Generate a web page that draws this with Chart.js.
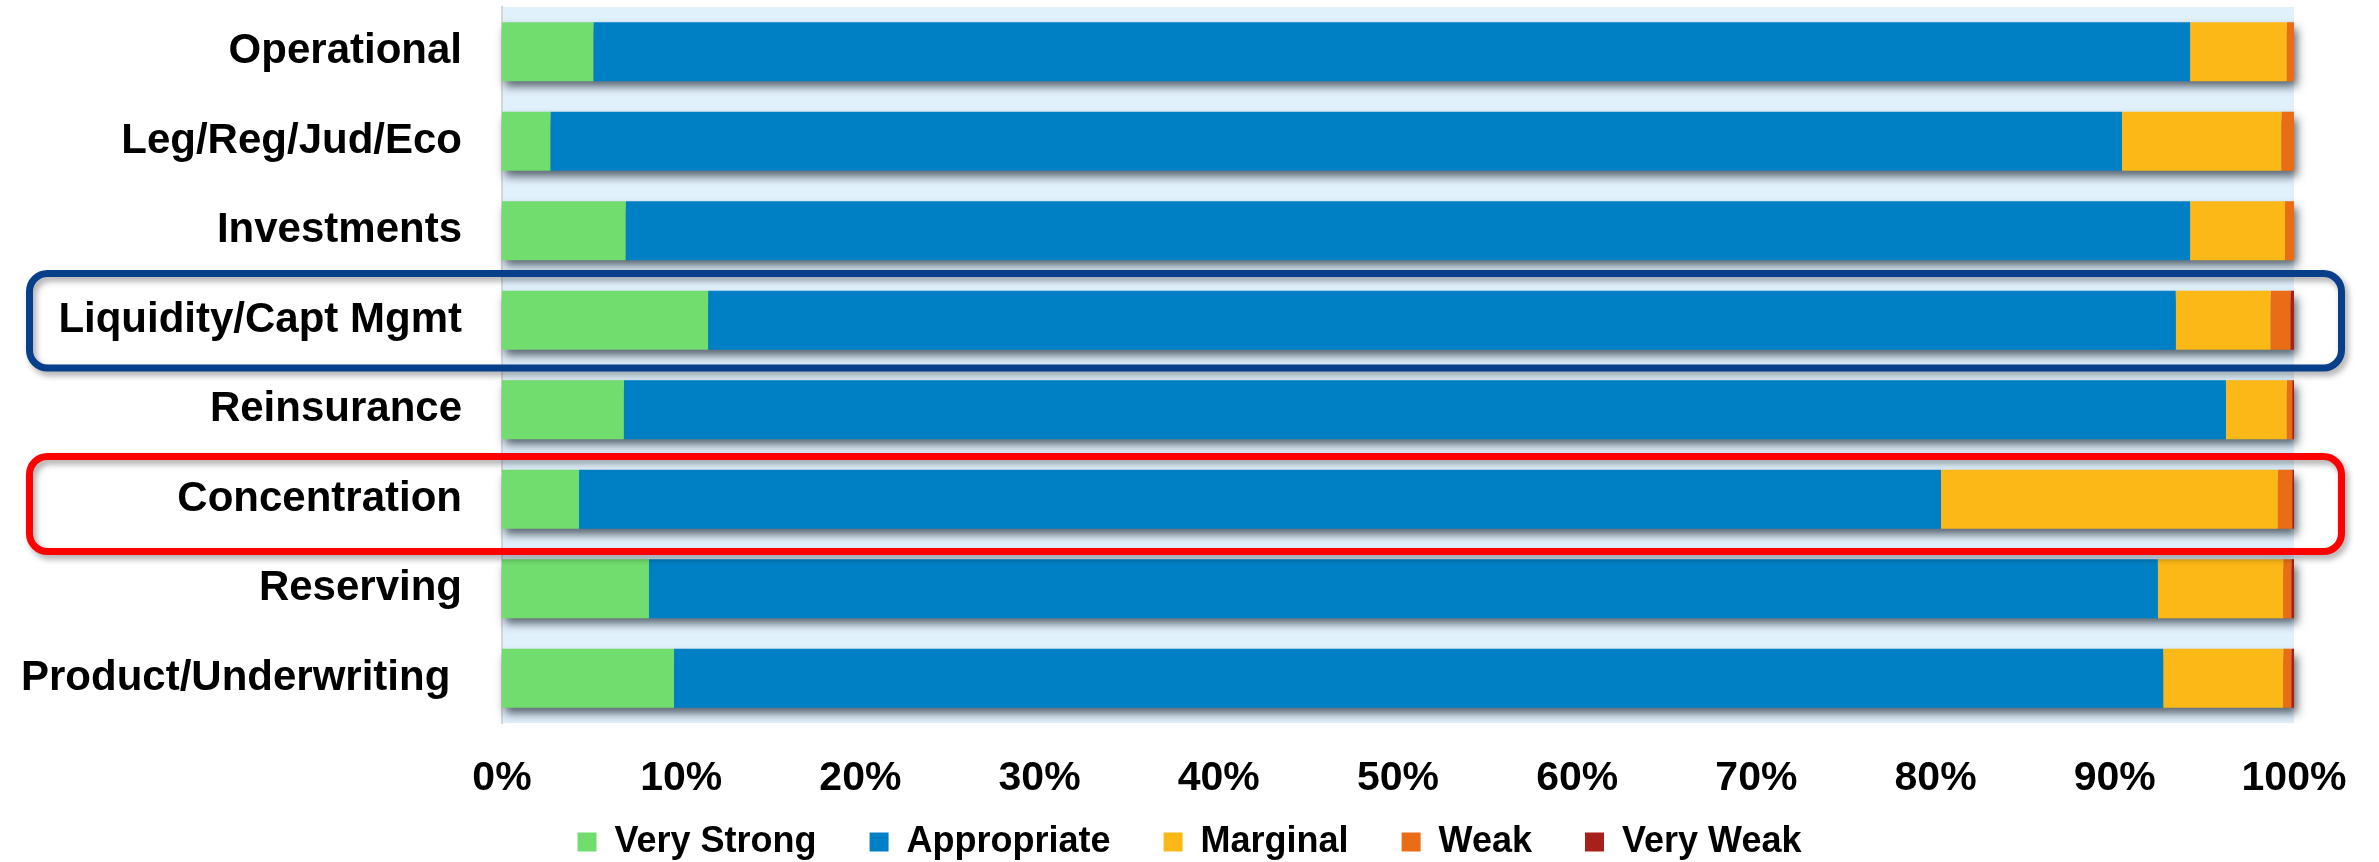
<!DOCTYPE html>
<html>
<head>
<meta charset="utf-8">
<script src="https://cdn.jsdelivr.net/npm/chart.js@4.4.1/dist/chart.umd.min.js"></script>
<style>
  html, body { margin: 0; padding: 0; background: #ffffff; }
  #wrap { width: 2379px; height: 862px; position: relative; }
</style>
</head>
<body>
<div id="wrap"><canvas id="chart"></canvas></div>
<script>
// Risk categories (top to bottom) and the share of each rating, in percent
const categories = [
  'Operational',
  'Leg/Reg/Jud/Eco',
  'Investments',
  'Liquidity/Capt Mgmt',
  'Reinsurance',
  'Concentration',
  'Reserving',
  'Product/Underwriting '
];
const veryStrong  = [5.1, 2.7, 6.9, 11.5, 6.8, 4.3, 8.2, 9.6];
const appropriate = [89.1, 87.7, 87.3, 81.9, 89.4, 76.0, 84.2, 83.1];
const marginal    = [5.4, 8.9, 5.3, 5.3, 3.4, 18.8, 7.0, 6.7];
const weak        = [0.4, 0.7, 0.5, 1.1, 0.3, 0.8, 0.45, 0.45];
const veryWeak    = [0, 0, 0, 0.2, 0.1, 0.1, 0.15, 0.15];

const seriesNames  = ['Very Strong', 'Appropriate', 'Marginal', 'Weak', 'Very Weak'];
const seriesValues = [veryStrong, appropriate, marginal, weak, veryWeak];
const seriesColors = ['#70DD6E', '#0080C4', '#FBB817', '#EA6C16', '#A8201A'];

// Percent axis
const axisMin = 0;
const axisMax = 100;
const axisStep = 10;
const tickSuffix = '%';

// Rows called out with a rounded frame
const framedRows = ['Liquidity/Capt Mgmt', 'Concentration'];
const frameColors = ['#073F8B', '#FF0000'];

Chart.defaults.font.family = "'Liberation Sans', Arial, Helvetica, sans-serif";
Chart.defaults.color = '#000000';

// Light fill behind the plotting area
const plotBackground = {
  id: 'plotBackground',
  beforeDraw(chart, args, opts) {
    const { ctx, chartArea: a } = chart;
    ctx.save();
    ctx.fillStyle = opts.color;
    ctx.fillRect(a.left, a.top, a.right - a.left, a.bottom - a.top);
    ctx.restore();
  }
};

// Places the legend row at a fixed distance below the plot
const legendPlacement = {
  id: 'legendPlacement',
  afterLayout(chart, args, opts) {
    const lg = chart.legend;
    if (!lg) return;
    const dy = chart.chartArea.bottom + opts.gap - lg.top;
    lg.top += dy;
    lg.bottom += dy;
  }
};

// Soft drop shadow under each stacked bar (shadow only, the bar itself is drawn by the controller)
const barShadow = {
  id: 'barShadow',
  beforeDatasetsDraw(chart, args, opts) {
    const metas = chart.getSortedVisibleDatasetMetas();
    const ctx = chart.ctx;
    const n = chart.data.labels.length;
    const shift = 10000;
    ctx.save();
    ctx.shadowColor = opts.color;
    ctx.shadowBlur = opts.blur;
    ctx.shadowOffsetX = opts.offsetX + shift;
    ctx.shadowOffsetY = opts.offsetY;
    ctx.fillStyle = '#000000';
    for (let i = 0; i < n; i++) {
      let l = Infinity, r = -Infinity, t = 0, h = 0;
      metas.forEach(m => {
        const el = m.data[i];
        if (!el) return;
        const p = el.getProps(['x', 'y', 'base', 'height'], true);
        l = Math.min(l, p.x, p.base);
        r = Math.max(r, p.x, p.base);
        t = p.y - p.height / 2;
        h = p.height;
      });
      if (r > l) ctx.fillRect(l - shift, t, r - l, h);
    }
    ctx.restore();
  }
};

// Rounded frames around selected rows, spanning labels and bars
const rowFrames = {
  id: 'rowFrames',
  afterDraw(chart, args, opts) {
    const { ctx, chartArea: a, scales: { y } } = chart;
    const step = Math.abs(y.getPixelForValue(1) - y.getPixelForValue(0));
    opts.frames.forEach(f => {
      const idx = chart.data.labels.indexOf(f.label);
      if (idx < 0) return;
      const cy = y.getPixelForValue(idx) + f.shift;
      const half = step * f.halfHeight;
      const x0 = opts.left, x1 = a.right + opts.overhang;
      const y0 = cy - half, y1 = cy + half;
      const r = opts.radius;
      ctx.save();
      ctx.shadowColor = 'rgba(0,0,0,0.35)';
      ctx.shadowBlur = 6;
      ctx.shadowOffsetX = 3;
      ctx.shadowOffsetY = 4;
      ctx.strokeStyle = f.color;
      ctx.lineWidth = opts.lineWidth;
      ctx.beginPath();
      ctx.moveTo(x0 + r, y0);
      ctx.lineTo(x1 - r, y0);
      ctx.arcTo(x1, y0, x1, y0 + r, r);
      ctx.lineTo(x1, y1 - r);
      ctx.arcTo(x1, y1, x1 - r, y1, r);
      ctx.lineTo(x0 + r, y1);
      ctx.arcTo(x0, y1, x0, y1 - r, r);
      ctx.lineTo(x0, y0 + r);
      ctx.arcTo(x0, y0, x0 + r, y0, r);
      ctx.closePath();
      ctx.stroke();
      ctx.restore();
    });
  }
};

const datasets = seriesNames.map((name, i) => ({
  label: name,
  data: seriesValues[i],
  backgroundColor: seriesColors[i],
  borderWidth: 0,
  barPercentage: 0.66,
  categoryPercentage: 1.0
}));

new Chart(document.getElementById('chart'), {
  type: 'bar',
  data: { labels: categories, datasets },
  plugins: [plotBackground, legendPlacement, barShadow, rowFrames],
  options: {
    indexAxis: 'y',
    responsive: true,
    maintainAspectRatio: false,
    animation: false,
    layout: { padding: { top: 7, left: 0, right: 0, bottom: -45 } },
    scales: {
      x: {
        stacked: true,
        min: axisMin,
        max: axisMax,
        ticks: {
          stepSize: axisStep,
          padding: 31,
          maxRotation: 0,
          autoSkip: false,
          color: '#000000',
          font: { size: 41, weight: 'bold' },
          callback: v => v + tickSuffix
        },
        grid: { display: false, drawTicks: false },
        border: { display: false },
        afterFit(s) { s.height = 85; s.paddingLeft = 0; s.paddingRight = 0; }
      },
      y: {
        stacked: true,
        ticks: {
          padding: 40,
          autoSkip: false,
          color: '#000000',
          font: { size: 42, weight: 'bold' }
        },
        grid: { display: false, drawTicks: false },
        border: { display: true, color: '#D6D6D6', width: 2 },
        afterFit(s) { s.width = 502; s.paddingTop = 0; s.paddingBottom = 0; }
      },
      y2: {
        type: 'category',
        position: 'right',
        display: true,
        ticks: { display: false },
        grid: { display: false, drawTicks: false },
        border: { display: false },
        afterFit(s) { s.width = 85; s.paddingTop = 0; s.paddingBottom = 0; }
      }
    },
    plugins: {
      legend: {
        position: 'bottom',
        labels: {
          boxWidth: 19,
          boxHeight: 19,
          padding: 53,
          color: '#000000',
          font: { size: 36, weight: 'bold' }
        }
      },
      legendPlacement: { gap: 48 },
      tooltip: { enabled: false },
      plotBackground: { color: '#E1F1FC' },
      barShadow: { color: 'rgba(30,40,50,0.7)', blur: 9, offsetX: 3, offsetY: 6 },
      rowFrames: {
        left: 29.5,
        overhang: 47.5,
        radius: 18,
        lineWidth: 7,
        frames: [
          { label: framedRows[0], color: frameColors[0], shift: 0.5, halfHeight: 0.528 },
          { label: framedRows[1], color: frameColors[1], shift: 4.75, halfHeight: 0.53 }
        ]
      }
    }
  }
});
</script>
</body>
</html>
